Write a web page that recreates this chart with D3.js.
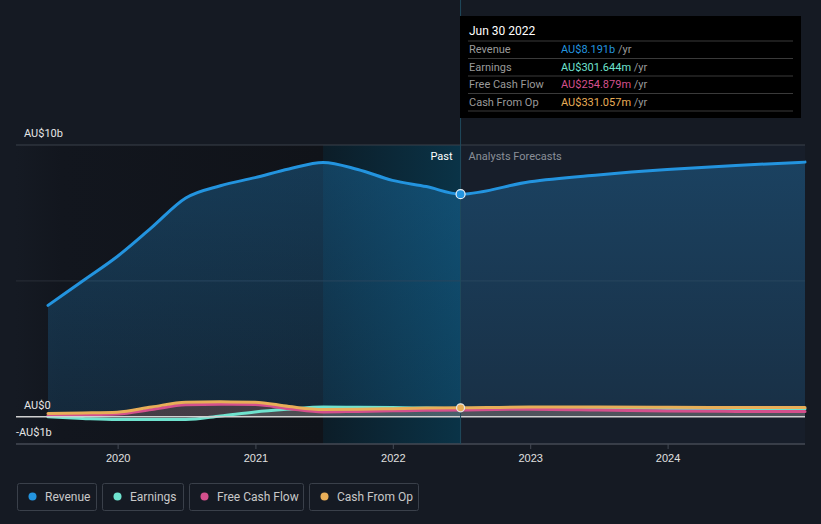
<!DOCTYPE html>
<html><head><meta charset="utf-8">
<script src="https://cdn.jsdelivr.net/npm/d3@7/dist/d3.min.js"></script>
<style>
html,body{margin:0;padding:0;background:#151a23;}
svg{display:block;font-family:Roboto,"Noto Sans",sans-serif;}
</style></head><body>
<svg id="c" width="821" height="524"></svg>
<script>
// ---- data (AU$ billions) ----
const pastDates = ["2019-06-30","2019-09-30","2019-12-31","2020-03-31","2020-06-30","2020-09-30","2020-12-31","2021-03-31","2021-06-30","2021-09-30","2021-12-31","2022-03-31","2022-06-30"];
const revenuePast  = [4.1, 5.0, 5.9, 6.96, 8.05, 8.5, 8.8, 9.12, 9.36, 9.1, 8.7, 8.47, 8.191];
const earningsPast = [0.0, -0.06, -0.1, -0.1, -0.1, 0.03, 0.18, 0.28, 0.36, 0.35, 0.34, 0.32, 0.3016];
const fcfPast      = [0.05, 0.07, 0.1, 0.27, 0.44, 0.46, 0.45, 0.3, 0.18, 0.2, 0.22, 0.24, 0.2549];
const cfoPast      = [0.12, 0.14, 0.17, 0.36, 0.54, 0.55, 0.54, 0.38, 0.27, 0.28, 0.3, 0.32, 0.3311];

const fcstDates = ["2022-06-30","2022-12-31","2023-06-30","2023-12-31","2024-06-30","2024-12-31"];
const revenueFcst  = [8.191, 8.65, 8.9, 9.1, 9.25, 9.37];
const earningsFcst = [0.3016, 0.32, 0.32, 0.31, 0.3, 0.3];
const fcfFcst      = [0.2549, 0.28, 0.25, 0.21, 0.2, 0.2];
const cfoFcst      = [0.3311, 0.36, 0.36, 0.35, 0.34, 0.34];

const yTicks = [10, 0, -1];
const yTickLabels = ["AU$10b", "AU$0", "-AU$1b"];
const xTickYears = [2020, 2021, 2022, 2023, 2024];

const seriesNames = ["Revenue", "Earnings", "Free Cash Flow", "Cash From Op"];
const seriesColors = ["#2394df", "#6fe3cf", "#d4508d", "#e8ae58"];
const tooltipValues = ["AU$8.191b", "AU$301.644m", "AU$254.879m", "AU$331.057m"];
const tooltipDate = "Jun 30 2022";

// ---- setup ----
const parse = d3.timeParse("%Y-%m-%d");
const svg = d3.select("#c");
const x = d3.scaleTime().domain([parse("2019-06-30"), parse("2024-12-31")]).range([48, 805]);
const y = d3.scaleLinear().domain([-1, 10]).range([444, 145]);
const pLeft = 16, pRight = 805, pTop = 145, pBottom = 444;
const nowX = x(parse("2022-06-30"));
const hlX = x(parse("2021-06-30"));

const defs = svg.append("defs");
const g1 = defs.append("linearGradient").attr("id","pastBg").attr("x1","0").attr("x2","1");
g1.append("stop").attr("offset","0").attr("stop-color","#151a23");
g1.append("stop").attr("offset","0.15").attr("stop-color","#12161e");
g1.append("stop").attr("offset","1").attr("stop-color","#101319");
const g2 = defs.append("linearGradient").attr("id","hlBg").attr("x1","0").attr("x2","1");
g2.append("stop").attr("offset","0").attr("stop-color","#0c1d28");
g2.append("stop").attr("offset","1").attr("stop-color","#0a3347");
const g3 = defs.append("linearGradient").attr("id","revFill").attr("x1","0").attr("x2","0").attr("y1","0").attr("y2","1");
g3.append("stop").attr("offset","0").attr("stop-color","#2394df").attr("stop-opacity",0.3);
g3.append("stop").attr("offset","1").attr("stop-color","#2394df").attr("stop-opacity",0.15);

// backgrounds
svg.append("rect").attr("x", pLeft).attr("y", pTop).attr("width", hlX-pLeft).attr("height", pBottom-pTop).attr("fill","url(#pastBg)");
svg.append("rect").attr("x", hlX).attr("y", pTop).attr("width", nowX-hlX).attr("height", pBottom-pTop).attr("fill","url(#hlBg)");
svg.append("rect").attr("x", nowX).attr("y", pTop).attr("width", pRight-nowX).attr("height", pBottom-pTop).attr("fill","#171e2a");

// grid
svg.append("line").attr("x1",pLeft).attr("x2",pRight).attr("y1",y(10)).attr("y2",y(10)).attr("stroke","#3b404a").attr("stroke-width",1);
svg.append("line").attr("x1",pLeft).attr("x2",pRight).attr("y1",y(5)).attr("y2",y(5)).attr("stroke","#2a2f38").attr("stroke-width",1);

// series
const mk = (dates, vals) => dates.map((d,i)=>({date: parse(d), v: vals[i]}));
const all = [
  [mk(pastDates, revenuePast), mk(fcstDates, revenueFcst)],
  [mk(pastDates, earningsPast), mk(fcstDates, earningsFcst)],
  [mk(pastDates, fcfPast), mk(fcstDates, fcfFcst)],
  [mk(pastDates, cfoPast), mk(fcstDates, cfoFcst)]
];
const curve = d3.curveMonotoneX;
const line = d3.line().x(d=>x(d.date)).y(d=>y(d.v)).curve(curve);
const area = d3.area().x(d=>x(d.date)).y0(y(0)).y1(d=>y(d.v)).curve(curve);

all.forEach((s, i) => {
  const full = s[0].concat(s[1].slice(1));
  svg.append("path").datum(full).attr("d", area)
    .attr("fill", i===0 ? "url(#revFill)" : seriesColors[i]).attr("fill-opacity", i===0 ? 1 : 0.13);
});
all.forEach((s, i) => {
  const full = s[0].concat(s[1].slice(1));
  svg.append("path").datum(full).attr("d", line)
    .attr("fill","none").attr("stroke", seriesColors[i]).attr("stroke-width", 3).attr("stroke-linecap","round");
});

// zero line & axis
svg.append("line").attr("x1",pLeft).attr("x2",pRight).attr("y1",y(0)).attr("y2",y(0)).attr("stroke","#d0d0d0").attr("stroke-width",1.5);
const xAxis = d3.axisBottom(x)
  .tickValues(xTickYears.map(yr => new Date(yr,0,1)))
  .tickFormat(d3.timeFormat("%Y")).tickSize(5).tickSizeOuter(0);
const ax = svg.append("g").attr("transform", `translate(0,${pBottom})`).call(xAxis);
ax.select(".domain").remove();
ax.selectAll(".tick line").attr("stroke","#444a54");
ax.selectAll(".tick text").attr("fill","#e0e0e0").attr("font-size","11px").attr("dy","0.9em");
svg.append("line").attr("x1",pLeft).attr("x2",pRight).attr("y1",pBottom).attr("y2",pBottom).attr("stroke","#444a54").attr("stroke-width",1.5);

// y labels
yTicks.forEach((t,i)=>{
  svg.append("text").attr("x", i===2 ? pLeft : 24).attr("y", y(t) - 8)
    .attr("fill","#e6e6e6").attr("font-size","11px").text(yTickLabels[i]);
});

// now line
svg.append("line").attr("x1",nowX).attr("x2",nowX).attr("y1",0).attr("y2",pBottom).attr("stroke","#1f4a5c").attr("stroke-width",1);

// Past / forecast labels
svg.append("text").attr("x", nowX-8).attr("y", 160).attr("text-anchor","end").attr("fill","#ffffff").attr("font-size","11px").text("Past");
svg.append("text").attr("x", nowX+8).attr("y", 160).attr("fill","#8a8f98").attr("font-size","11px").text("Analysts Forecasts");

// markers
svg.append("circle").attr("cx", nowX).attr("cy", y(revenuePast[revenuePast.length-1])).attr("r",4.5)
  .attr("fill","#2394df").attr("stroke","#e8f2fa").attr("stroke-width",1.2);
svg.append("circle").attr("cx", nowX).attr("cy", y(cfoPast[cfoPast.length-1])).attr("r",4)
  .attr("fill","#e8ae58").attr("stroke","#e6e6e6").attr("stroke-width",1.2);

// tooltip
const tt = svg.append("g").attr("transform","translate(460,16)");
tt.append("rect").attr("width",341).attr("height",102).attr("fill","#000000");
tt.append("text").attr("x",9).attr("y",19).attr("fill","#ffffff").attr("font-size","12px").text(tooltipDate);
const rowH = 17.5;
seriesNames.forEach((n,i)=>{
  const ry = 25 + i*rowH;
  tt.append("line").attr("x1",8).attr("x2",333).attr("y1",ry).attr("y2",ry).attr("stroke","#3a3a3a");
  tt.append("text").attr("x",9).attr("y",ry+12).attr("fill","#9a9a9a").attr("font-size","11px").text(n);
  const t = tt.append("text").attr("x",101).attr("y",ry+12).attr("font-size","11px");
  t.append("tspan").attr("fill",seriesColors[i]).text(tooltipValues[i]);
  t.append("tspan").attr("fill","#9a9a9a").text(" /yr");
});
tt.append("line").attr("x1",8).attr("x2",333).attr("y1",25+4*rowH).attr("y2",25+4*rowH).attr("stroke","#3a3a3a");

// legend
const lg = svg.append("g").attr("transform","translate(17,483)");
let lx = 0;
const widths = [80, 82, 115, 110];
seriesNames.forEach((n,i)=>{
  const g = lg.append("g").attr("transform",`translate(${lx},0)`);
  g.append("rect").attr("x",0.5).attr("y",0.5).attr("width",widths[i]-1).attr("height",27).attr("rx",2)
    .attr("fill","none").attr("stroke","#3a404a");
  g.append("circle").attr("cx",15.5).attr("cy",13.5).attr("r",4).attr("fill",seriesColors[i]);
  g.append("text").attr("x",28).attr("y",17.5).attr("fill","#c8c8c8").attr("font-size","12px").text(n);
  lx += widths[i] + 5;
});
</script>
</body></html>
